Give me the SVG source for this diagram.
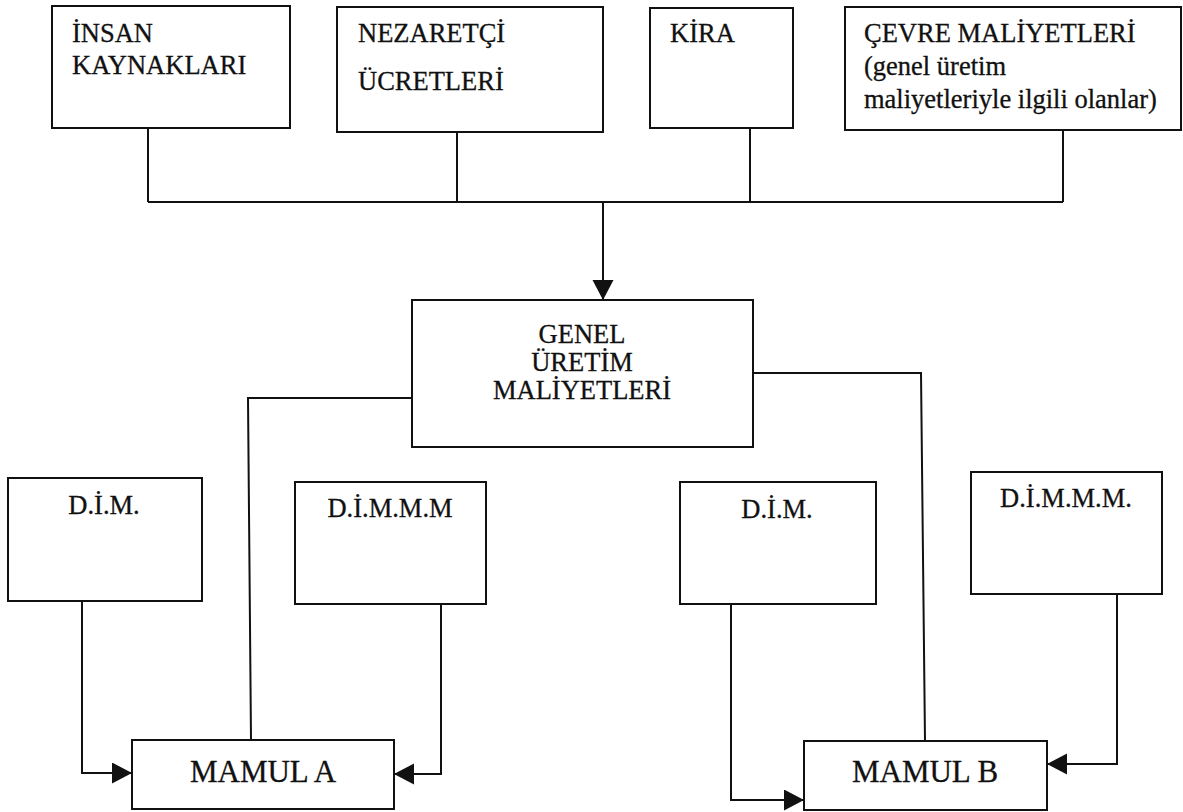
<svg xmlns="http://www.w3.org/2000/svg" width="1183" height="812" viewBox="0 0 1183 812">
  <style>
    .box { fill: #fff; stroke: #111; stroke-width: 2; }
    .lbl { font-family: "Liberation Serif", "Times New Roman", serif; font-size: 26.5px; fill: #111; stroke: #111; stroke-width: 0.3; }
    .mid { text-anchor: middle; }
    .big { font-size: 31px; }
    .wire { fill: none; stroke: #111; stroke-width: 2; }
  </style>
  <defs>
    <marker id="head" markerUnits="userSpaceOnUse" markerWidth="22" markerHeight="22" refX="20" refY="10.5" orient="auto">
      <path d="M0,0 L20,10.5 L0,21 Z" fill="#111"/>
    </marker>
  </defs>

  <rect width="1183" height="812" fill="#fff"/>

  <!-- connectors -->
  <g id="connectors">
    <!-- cost sources joined on a common bus -->
    <path class="wire" d="M148,128 V202 M457,132 V202 M750,128 V202 M1063,130 V202 M148,202 H1063"/>
    <path class="wire" d="M603,202 V300" marker-end="url(#head)"/>
    <!-- overhead split to the two products -->
    <path class="wire" d="M412,398 H248 L251,740"/>
    <path class="wire" d="M753,373 H921 L925,741"/>
    <!-- direct material / labour feeds -->
    <path class="wire" d="M82,601 V773 H132" marker-end="url(#head)"/>
    <path class="wire" d="M441,604 V774 H394" marker-end="url(#head)"/>
    <path class="wire" d="M731,604 V800 H804" marker-end="url(#head)"/>
    <path class="wire" d="M1117,594 V764 H1047" marker-end="url(#head)"/>
  </g>

  <g id="insan-kaynaklari">
    <rect class="box" x="52" y="6" width="238" height="122"/>
    <text class="lbl" x="72" y="42">İNSAN</text>
    <text class="lbl" x="72" y="74">KAYNAKLARI</text>
  </g>

  <g id="nezaretci-ucretleri">
    <rect class="box" x="337" y="7" width="266" height="125"/>
    <text class="lbl" x="358" y="42">NEZARETÇİ</text>
    <text class="lbl" x="358" y="90">ÜCRETLERİ</text>
  </g>

  <g id="kira">
    <rect class="box" x="650" y="8" width="143" height="120"/>
    <text class="lbl" x="670" y="42">KİRA</text>
  </g>

  <g id="cevre-maliyetleri">
    <rect class="box" x="845" y="7" width="336" height="123"/>
    <text class="lbl" x="864" y="42">ÇEVRE MALİYETLERİ</text>
    <text class="lbl" x="864" y="75">(genel üretim</text>
    <text class="lbl" x="864" y="108">maliyetleriyle ilgili olanlar)</text>
  </g>

  <g id="genel-uretim-maliyetleri">
    <rect class="box" x="412" y="300" width="341" height="147"/>
    <text class="lbl mid" x="582" y="343">GENEL</text>
    <text class="lbl mid" x="582" y="371">ÜRETİM</text>
    <text class="lbl mid" x="582" y="399">MALİYETLERİ</text>
  </g>

  <g id="dim-a">
    <rect class="box" x="8" y="478" width="194" height="123"/>
    <text class="lbl mid" x="104" y="514">D.İ.M.</text>
  </g>

  <g id="dimmm-a">
    <rect class="box" x="295" y="482" width="191" height="122"/>
    <text class="lbl mid" x="390" y="517">D.İ.M.M.M</text>
  </g>

  <g id="dim-b">
    <rect class="box" x="680" y="482" width="196" height="122"/>
    <text class="lbl mid" x="777" y="518">D.İ.M.</text>
  </g>

  <g id="dimmm-b">
    <rect class="box" x="971" y="472" width="191" height="122"/>
    <text class="lbl mid" x="1066" y="507">D.İ.M.M.M.</text>
  </g>

  <g id="mamul-a">
    <rect class="box" x="132" y="740" width="262" height="69"/>
    <text class="lbl big mid" x="263" y="782">MAMUL A</text>
  </g>

  <g id="mamul-b">
    <rect class="box" x="804" y="741" width="243" height="69"/>
    <text class="lbl big mid" x="925" y="782">MAMUL B</text>
  </g>
</svg>
